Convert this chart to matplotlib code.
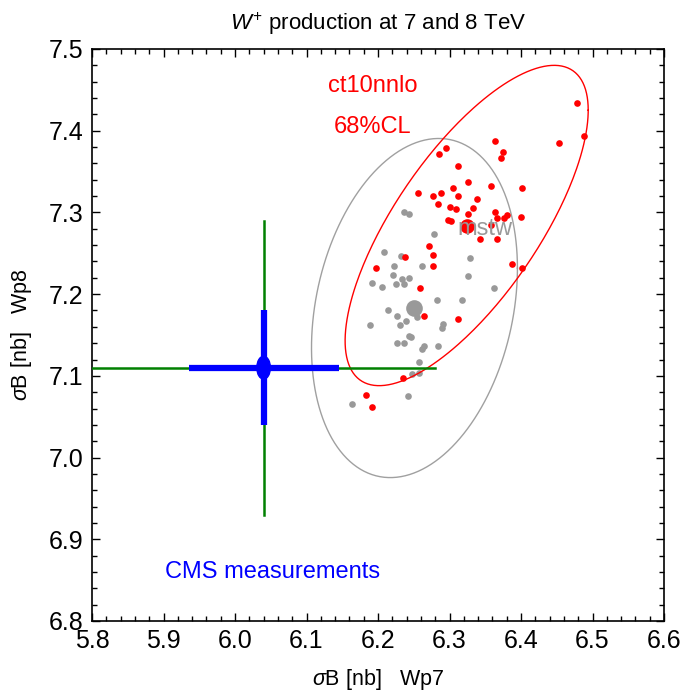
import numpy as np
import matplotlib
matplotlib.use('Agg')
import matplotlib.pyplot as plt
from matplotlib.patches import Ellipse
from matplotlib.ticker import MultipleLocator, FormatStrFormatter

plt.rcParams['font.family'] = ['Liberation Sans', 'DejaVu Sans']
plt.rcParams['mathtext.fontset'] = 'custom'
plt.rcParams['mathtext.rm'] = 'Liberation Sans'
plt.rcParams['mathtext.it'] = 'Liberation Sans:italic'

# ct10nnlo 成员点 (Wp7, Wp8)
ct10_x = [6.364, 6.453, 6.488, 6.375, 6.372, 6.295, 6.286, 6.312, 6.326, 6.358,
          6.402, 6.305, 6.256, 6.277, 6.288, 6.312, 6.339, 6.284, 6.301, 6.309,
          6.333, 6.363, 6.380, 6.376, 6.367, 6.400, 6.326, 6.298, 6.302, 6.358,
          6.343, 6.367, 6.272, 6.277, 6.277, 6.238, 6.197, 6.388, 6.402, 6.259,
          6.265, 6.312, 6.479, 6.235, 6.183, 6.191]
ct10_y = [7.387, 7.385, 7.394, 7.374, 7.367, 7.379, 7.372, 7.357, 7.337, 7.332,
          7.330, 7.330, 7.324, 7.320, 7.324, 7.320, 7.317, 7.310, 7.307, 7.304,
          7.305, 7.301, 7.297, 7.293, 7.293, 7.295, 7.298, 7.291, 7.289, 7.285,
          7.268, 7.267, 7.259, 7.248, 7.235, 7.245, 7.232, 7.237, 7.232, 7.207,
          7.173, 7.169, 7.434, 7.097, 7.077, 7.062]

# mstw 成员点
mstw_x = [6.236, 6.244, 6.278, 6.208, 6.232, 6.223, 6.261, 6.221, 6.233, 6.244,
          6.191, 6.206, 6.225, 6.237, 6.328, 6.326, 6.362, 6.282, 6.318, 6.214,
          6.226, 6.239, 6.231, 6.189, 6.255, 6.291, 6.290, 6.244, 6.246, 6.227,
          6.236, 6.284, 6.265, 6.261, 6.257, 6.248, 6.258, 6.242, 6.164]
mstw_y = [7.300, 7.298, 7.273, 7.252, 7.247, 7.234, 7.235, 7.223, 7.219, 7.220,
          7.214, 7.209, 7.213, 7.213, 7.244, 7.222, 7.207, 7.193, 7.193, 7.180,
          7.173, 7.167, 7.162, 7.162, 7.172, 7.163, 7.158, 7.149, 7.147, 7.140,
          7.140, 7.137, 7.137, 7.133, 7.117, 7.102, 7.103, 7.075, 7.065]

# 中心值与 68%CL 椭圆参数: (x0, y0, sigma_x, sigma_y, rho)
ct10_central = (6.324, 7.284, 0.170, 0.196, 0.72)
mstw_central = (6.251, 7.183, 0.144, 0.2075, 0.235)

# CMS 测量: 中心值, 统计误差, 总误差
cms_x, cms_x_stat, cms_x_tot = 6.04, 0.105, 0.24
cms_y, cms_y_stat, cms_y_tot = 7.11, 0.07, 0.18


def ellipse_curve(x0, y0, sx, sy, rho, n=300):
    t = np.linspace(0, 2 * np.pi, n)
    x = x0 + sx * np.cos(t)
    y = y0 + sy * (rho * np.cos(t) + np.sqrt(1 - rho ** 2) * np.sin(t))
    return x, y


fig = plt.figure(figsize=(6.85, 6.97), dpi=100)
ax = fig.add_axes([92 / 685, 1 - 621 / 697, 572 / 685, 572 / 697])

gray = '#999999'

# mstw
ex, ey = ellipse_curve(*mstw_central)
ax.plot(ex, ey, color='#a0a0a0', lw=1.0, zorder=2)
ax.plot(mstw_x, mstw_y, 'o', color=gray, ms=4.8, mec='none', zorder=3)
ax.plot(mstw_central[0], mstw_central[1], 'o', color=gray, ms=12, mec='none', zorder=3)

# ct10nnlo
ex, ey = ellipse_curve(*ct10_central)
ax.plot(ex, ey, color='red', lw=1.0, zorder=4)
ax.plot(ct10_x, ct10_y, 'o', color='red', ms=4.8, mec='none', zorder=5)
ax.plot(ct10_central[0], ct10_central[1], 'o', color='red', ms=10.5, mec='none', zorder=5)

# CMS 测量 (总误差: 绿, 统计误差: 蓝)
ax.plot([cms_x - cms_x_tot, cms_x + cms_x_tot], [cms_y, cms_y], color='#008000', lw=1.8, zorder=6)
ax.plot([cms_x, cms_x], [cms_y - cms_y_tot, cms_y + cms_y_tot], color='#008000', lw=1.8, zorder=6)
ax.plot([cms_x - cms_x_stat, cms_x + cms_x_stat], [cms_y, cms_y], color='#0000ff', lw=4.5,
        solid_capstyle='butt', zorder=7)
ax.plot([cms_x, cms_x], [cms_y - cms_y_stat, cms_y + cms_y_stat], color='#0000ff', lw=4.5,
        solid_capstyle='butt', zorder=7)
ax.add_patch(Ellipse((cms_x, cms_y), 0.019, 0.028, color='#0000ff', zorder=8))

# 文字标注
ax.text(6.193, 7.455, 'ct10nnlo', color='red', fontsize=17, ha='center', va='center')
ax.text(6.193, 7.404, '68%CL', color='red', fontsize=17, ha='center', va='center')
ax.text(6.311, 7.280, 'mstw', color=gray, fontsize=17, ha='left', va='center', zorder=6)
ax.text(6.053, 6.860, 'CMS measurements', color='#0000ff', fontsize=17, ha='center', va='center')

ax.set_xlim(5.8, 6.6)
ax.set_ylim(6.8, 7.5)
ax.xaxis.set_major_locator(MultipleLocator(0.1))
ax.xaxis.set_minor_locator(MultipleLocator(0.02))
ax.yaxis.set_major_locator(MultipleLocator(0.1))
ax.yaxis.set_minor_locator(MultipleLocator(0.02))
ax.xaxis.set_major_formatter(FormatStrFormatter('%.1f'))
ax.yaxis.set_major_formatter(FormatStrFormatter('%.1f'))
ax.tick_params(which='both', direction='in', top=True, right=True, width=1.0, labelsize=18)
ax.tick_params(which='major', length=6, pad=6)
ax.tick_params(which='minor', length=3.5)
for s in ax.spines.values():
    s.set_linewidth(1.2)

ax.set_xlabel(r'$\sigma$B [nb]   Wp7', fontsize=15.5, labelpad=10)
ax.set_ylabel(r'$\sigma$B [nb]   Wp8', fontsize=15.5, labelpad=11)
ax.set_title(r'$W^{+}$ production at 7 and 8 TeV', fontsize=16, pad=14)

fig.savefig('out.png', dpi=100)
